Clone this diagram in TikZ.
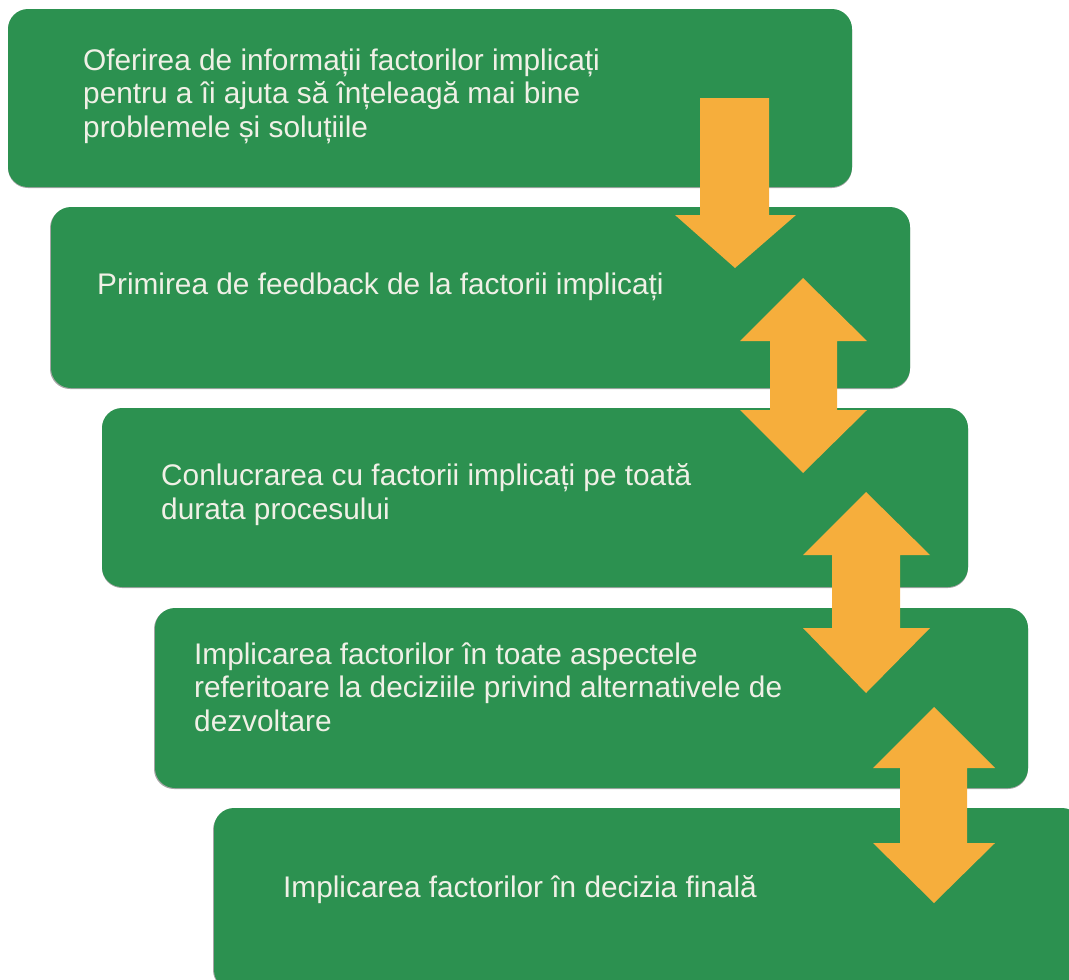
\documentclass[tikz,border=0pt]{standalone}
\usepackage{fontspec}
\setmainfont{Liberation Sans}
\definecolor{boxgreen}{HTML}{2C9150}
\definecolor{arroworange}{HTML}{F6AE3C}
\definecolor{txtcream}{HTML}{F0F0E6}
\tikzset{
  stepbox/.style={fill=boxgreen, rounded corners=20pt},
  boxshadow/.style={fill=black!70, opacity=0.5, rounded corners=20pt},
  blockarrow/.style={fill=arroworange},
  steptext/.style={anchor=base west, inner sep=0pt, text=txtcream, align=left,
    font=\fontsize{29.8}{33.2}\selectfont},
}
\begin{document}
\begin{tikzpicture}[x=1pt,y=-1pt]
\useasboundingbox (0,0) rectangle (1069,980);
% shadows
\fill[boxshadow] (8,10) rectangle (852,188);
\fill[boxshadow] (50,208) rectangle (910,389);
\fill[boxshadow] (102,409) rectangle (968,588);
\fill[boxshadow] (154,609) rectangle (1028,789);
\fill[boxshadow] (213,810) rectangle (1080,990);
% boxes
\fill[stepbox] (8,9) rectangle (852,187);
\fill[stepbox] (51,207) rectangle (910,388);
\fill[stepbox] (102,408) rectangle (968,587);
\fill[stepbox] (155,608) rectangle (1028,788);
\fill[stepbox] (214,808) rectangle (1082,990);
% texts (base anchor = last line's baseline)
\node[steptext] (t1) at (83,137) {Oferirea de informații factorilor implicați\\pentru a îi ajuta să înțeleagă mai bine\\problemele și soluțiile};
\node[steptext] (t2) at (97,294) {Primirea de feedback de la factorii implicați};
\node[steptext] (t3) at (161,519) {Conlucrarea cu factorii implicați pe toată\\durata procesului};
\node[steptext] (t4) at (194,731) {Implicarea factorilor în toate aspectele\\referitoare la deciziile privind alternativele de\\dezvoltare};
\node[steptext] (t5) at (283,897) {Implicarea factorilor în decizia finală};
% arrow 1 (down)
\fill[blockarrow] (700,98) -- (769,98) -- (769,215) -- (796,215) -- (735,268) -- (675,215) -- (700,215) -- cycle;
% arrow 2 (double)
\fill[blockarrow] (803,278) -- (867,341) -- (837,341) -- (837,410) -- (867,410) -- (803,473)
  -- (740,410) -- (770,410) -- (770,341) -- (740,341) -- cycle;
% arrow 3
\fill[blockarrow] (866,492) -- (930,555) -- (900,555) -- (900,628) -- (930,628) -- (866,693)
  -- (803,628) -- (832,628) -- (832,555) -- (803,555) -- cycle;
% arrow 4
\fill[blockarrow] (934,707) -- (995,768) -- (967,768) -- (967,843) -- (995,843) -- (934,903)
  -- (873,843) -- (900,843) -- (900,768) -- (873,768) -- cycle;
\end{tikzpicture}
\end{document}
